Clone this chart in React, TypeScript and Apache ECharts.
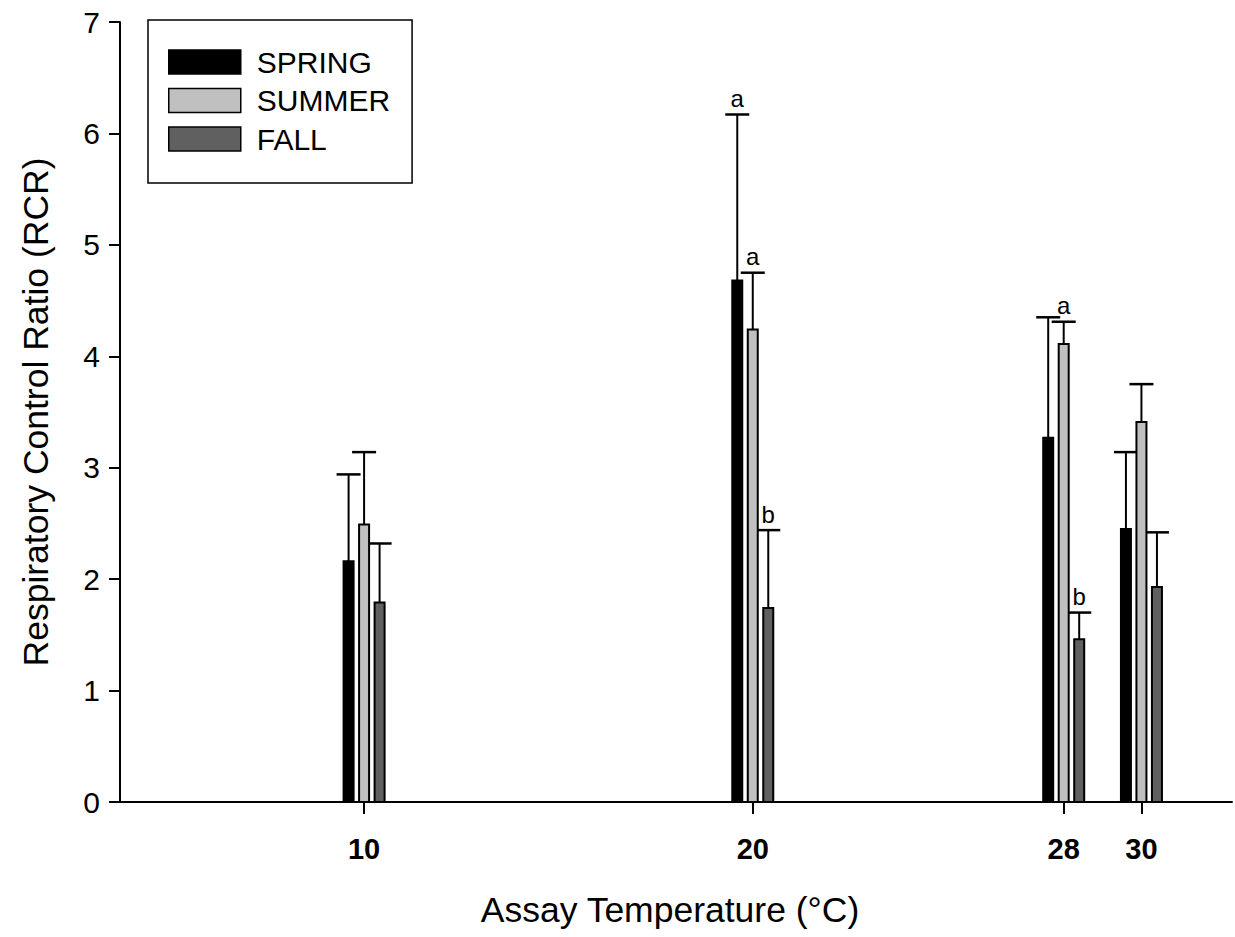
import React, { useEffect, useRef } from "react";
import * as echarts from "echarts";

// ---- data ----
const temps = [10, 20, 28, 30];
const seasons = ["SPRING", "SUMMER", "FALL"];
const springMean = [2.16, 4.68, 3.27, 2.45];
const springErr = [0.78, 1.49, 1.08, 0.69];
const summerMean = [2.49, 4.24, 4.11, 3.41];
const summerErr = [0.65, 0.51, 0.2, 0.34];
const fallMean = [1.79, 1.74, 1.46, 1.93];
const fallErr = [0.53, 0.7, 0.24, 0.49];
const springLetters = ["", "a", "", ""];
const summerLetters = ["", "a", "a", ""];
const fallLetters = ["", "b", "b", ""];
const yTicks = [0, 1, 2, 3, 4, 5, 6, 7];

const FONT = "'Liberation Sans', Arial, sans-serif";

export default function App() {
  const ref = useRef<HTMLDivElement>(null);
  useEffect(() => {
    if (!ref.current) return;
    const chart = echarts.init(ref.current, undefined, { renderer: "svg" });

    const groups = [
      { name: seasons[0], mean: springMean, err: springErr, letters: springLetters, fill: "#000000", offset: -15.5 },
      { name: seasons[1], mean: summerMean, err: summerErr, letters: summerLetters, fill: "#c0c0c0", offset: 0 },
      { name: seasons[2], mean: fallMean, err: fallErr, letters: fallLetters, fill: "#606060", offset: 15.5 },
    ];

    const barSeries = groups.map((g) => ({
      type: "custom",
      name: g.name,
      z: 3,
      clip: false,
      itemStyle: { color: g.fill, borderColor: "#000", borderWidth: 1.5 },
      data: temps.map((t, i) => [t, g.mean[i]]),
      renderItem: (params: any, api: any) => {
        const x = api.value(0);
        const y = api.value(1);
        const base = api.coord([x, 0]);
        const top = api.coord([x, y]);
        const cx = base[0] + g.offset;
        return {
          type: "rect",
          shape: { x: cx - 5, y: top[1], width: 10, height: base[1] - top[1] },
          style: { fill: g.fill, stroke: "#000", lineWidth: 2 },
        };
      },
    }));

    const errSeries = groups.map((g) => ({
      type: "custom",
      name: g.name + " error",
      z: 2,
      clip: false,
      data: temps.map((t, i) => [t, g.mean[i], g.err[i]]),
      renderItem: (params: any, api: any) => {
        const x = api.value(0);
        const y = api.value(1);
        const e = api.value(2);
        const top = api.coord([x, y]);
        const et = api.coord([x, y + e]);
        const cx = top[0] + g.offset;
        const children: any[] = [
          { type: "line", shape: { x1: cx, y1: top[1], x2: cx, y2: et[1] }, style: { stroke: "#000", lineWidth: 2 } },
          { type: "line", shape: { x1: cx - 12, y1: et[1], x2: cx + 12, y2: et[1] }, style: { stroke: "#000", lineWidth: 2.5 } },
        ];
        const letter = g.letters[params.dataIndex];
        if (letter) {
          children.push({
            type: "text",
            style: {
              text: letter,
              x: cx,
              y: et[1] - 4,
              align: "center",
              verticalAlign: "bottom",
              fontSize: 24,
              fontFamily: FONT,
              fill: "#000",
            },
          });
        }
        return { type: "group", children };
      },
    }));

    chart.setOption({
      animation: false,
      backgroundColor: "#ffffff",
      grid: { left: 120, right: 3, top: 22, bottom: 135, containLabel: false },
      legend: {
        orient: "vertical",
        left: 148,
        top: 20,
        padding: [27, 22, 29, 20],
        borderColor: "#000",
        borderWidth: 1.5,
        borderRadius: 0,
        itemWidth: 72,
        itemHeight: 24,
        itemGap: 8.5,
        icon: "rect",
        selectedMode: false,
        textStyle: { fontSize: 30, fontFamily: FONT, color: "#000", padding: [0, 0, 0, 11] },
        data: groups.map((g) => ({
          name: g.name,
          itemStyle: { color: g.fill, borderColor: "#000", borderWidth: 1.5 },
        })),
      },
      xAxis: {
        type: "value",
        min: 3.72,
        max: 32.33,
        name: "Assay Temperature (°C)",
        nameLocation: "middle",
        nameGap: 90,
        nameTextStyle: { fontSize: 35.5, fontFamily: FONT, color: "#000", padding: [0, 12, 0, 0] },
        splitLine: { show: false },
        axisLine: { lineStyle: { color: "#000", width: 2 } },
        axisTick: { show: true, inside: false, length: 12, lineStyle: { color: "#000", width: 2 }, customValues: temps },
        axisLabel: {
          customValues: temps,
          margin: 32,
          fontSize: 29,
          fontWeight: "bold",
          fontFamily: FONT,
          color: "#000",
        },
      },
      yAxis: {
        type: "value",
        min: yTicks[0],
        max: yTicks[yTicks.length - 1],
        interval: 1,
        name: "Respiratory Control Ratio (RCR)",
        nameLocation: "middle",
        nameGap: 66,
        nameTextStyle: { fontSize: 35.5, fontFamily: FONT, color: "#000" },
        splitLine: { show: false },
        axisLine: { show: true, lineStyle: { color: "#000", width: 2 } },
        axisTick: { show: true, inside: false, length: 11, lineStyle: { color: "#000", width: 2 } },
        axisLabel: { margin: 20, fontSize: 30, fontFamily: FONT, color: "#000" },
      },
      series: [...errSeries, ...barSeries],
    });

    return () => chart.dispose();
  }, []);

  return (
    <div
      ref={ref}
      style={{ position: "absolute", left: 0, top: 0, width: 1235, height: 937, background: "#fff" }}
    />
  );
}
